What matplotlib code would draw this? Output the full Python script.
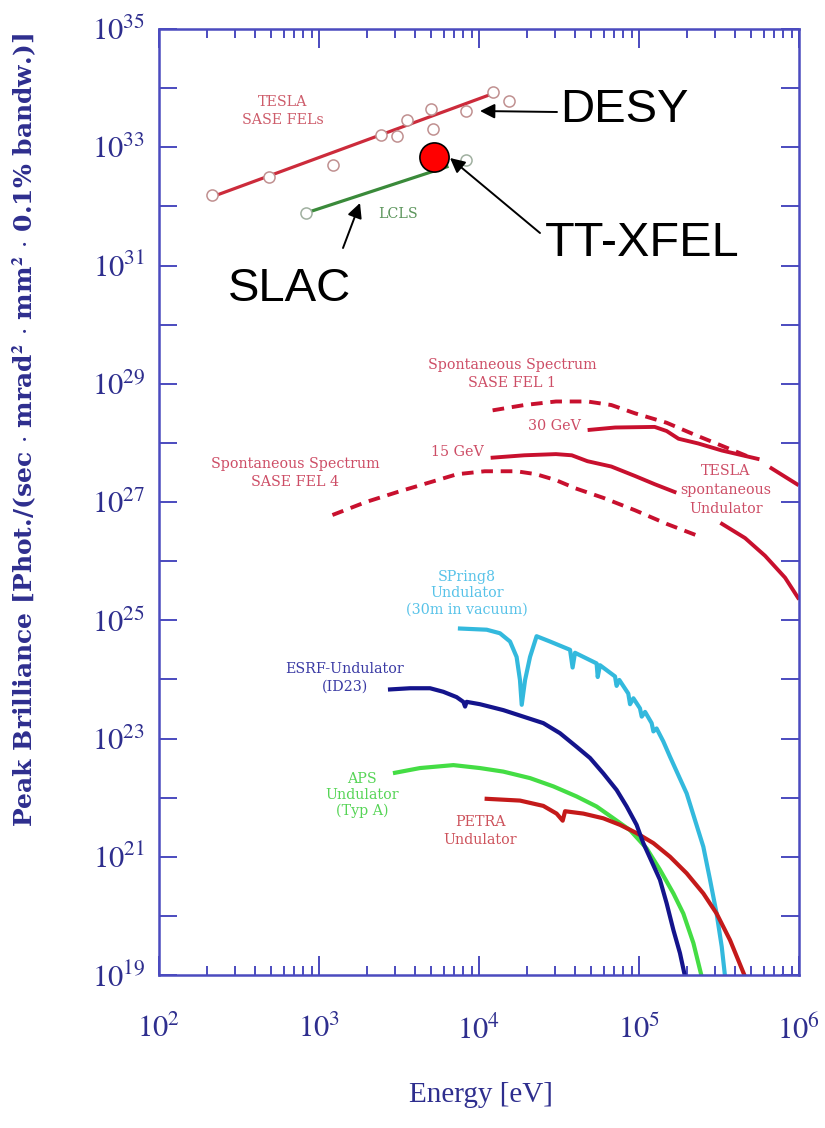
import matplotlib
matplotlib.use("Agg")
import matplotlib.pyplot as plt
from matplotlib.ticker import FixedLocator, FuncFormatter, LogLocator, NullFormatter, NullLocator
import numpy as np

W, H = 825, 1128

# values: log10(E / eV) and log10(brilliance)
tesla_pts_logE = [2.33, 2.69, 3.09, 3.39, 3.49, 3.55, 3.70, 3.71, 3.92, 4.09, 4.19]
tesla_pts_logB = [32.19, 32.50, 32.70, 33.21, 33.19, 33.46, 33.65, 33.31, 33.62, 33.94, 33.79]
tesla_fit_logE = [2.33, 4.09]
tesla_fit_logB = [32.16, 33.91]

lcls_pts_logE = [2.92, 3.92]
lcls_pts_logB = [31.88, 32.78]
lcls_fit_logE = [2.92, 3.80]
lcls_fit_logB = [31.89, 32.67]

ttxfel_logE = [3.72]
ttxfel_logB = [32.84]

sase1_logE = [4.085, 4.283, 4.481, 4.678, 4.827, 4.975, 5.173, 5.346, 5.519, 5.717]
sase1_logB = [28.55, 28.64, 28.70, 28.70, 28.64, 28.50, 28.34, 28.14, 27.95, 27.73]
sase4_logE = [3.084, 3.294, 3.492, 3.690, 3.863, 4.036, 4.234, 4.357, 4.481, 4.604,
              4.777, 4.975, 5.173, 5.395]
sase4_logB = [26.78, 27.00, 27.17, 27.33, 27.47, 27.52, 27.52, 27.47, 27.37, 27.23,
              27.07, 26.86, 26.63, 26.40]

gev30_logE = [4.691, 4.851, 5.098, 5.173, 5.247, 5.370, 5.519, 5.741]
gev30_logB = [28.22, 28.26, 28.27, 28.20, 28.07, 27.99, 27.87, 27.73]
gev30_tail_logE = [5.828, 5.988]
gev30_tail_logB = [27.57, 27.30]
gev15_logE = [4.085, 4.283, 4.481, 4.580, 4.678, 4.827, 4.975, 5.099, 5.222]
gev15_logB = [27.75, 27.79, 27.81, 27.79, 27.69, 27.60, 27.44, 27.30, 27.17]
gev15_tail_logE = [5.519, 5.663, 5.788, 5.913, 5.994]
gev15_tail_logB = [26.63, 26.39, 26.09, 25.72, 25.38]

spring8_logE = [3.881, 4.048, 4.131, 4.194, 4.235, 4.256, 4.267, 4.288, 4.319, 4.360,
                4.444, 4.569, 4.585, 4.600, 4.735, 4.742, 4.756, 4.850, 4.860, 4.877,
                4.933, 4.944, 4.965, 5.006, 5.017, 5.038, 5.079, 5.090, 5.110, 5.152,
                5.194, 5.246, 5.298, 5.350, 5.402, 5.444, 5.485, 5.517, 5.538]
spring8_logB = [24.86, 24.84, 24.78, 24.64, 24.38, 23.99, 23.57, 23.99, 24.38, 24.73,
                24.64, 24.50, 24.20, 24.45, 24.27, 24.04, 24.24, 24.05, 23.89, 23.99,
                23.76, 23.58, 23.68, 23.51, 23.37, 23.45, 23.26, 23.12, 23.17, 22.95,
                22.69, 22.38, 22.07, 21.62, 21.17, 20.61, 20.04, 19.48, 18.97]

esrf_logE = [3.444, 3.569, 3.694, 3.777, 3.860, 3.902, 3.913, 3.923, 4.006, 4.152,
             4.277, 4.402, 4.506, 4.610, 4.694, 4.777, 4.860, 4.923, 4.985, 5.027,
             5.079, 5.131, 5.173, 5.215, 5.256, 5.288]
esrf_logB = [23.83, 23.85, 23.85, 23.79, 23.70, 23.62, 23.54, 23.62, 23.58, 23.48,
             23.37, 23.26, 23.09, 22.86, 22.67, 22.41, 22.13, 21.85, 21.54, 21.23,
             20.92, 20.61, 20.21, 19.76, 19.37, 18.97]

aps_logE = [3.475, 3.631, 3.840, 4.006, 4.152, 4.319, 4.465, 4.610, 4.735, 4.840,
            4.944, 5.048, 5.131, 5.215, 5.277, 5.340, 5.392]
aps_logB = [22.42, 22.50, 22.55, 22.50, 22.44, 22.33, 22.19, 22.02, 21.85, 21.65,
            21.45, 21.14, 20.78, 20.38, 20.04, 19.54, 18.97]

petra_logE = [4.048, 4.256, 4.402, 4.485, 4.523, 4.538, 4.652, 4.777, 4.881, 4.985,
              5.090, 5.194, 5.298, 5.402, 5.485, 5.569, 5.663]
petra_logB = [21.98, 21.95, 21.86, 21.73, 21.61, 21.77, 21.73, 21.65, 21.54, 21.40,
              21.23, 21.00, 20.72, 20.38, 20.04, 19.59, 18.97]

AXCOL = "#2e2e8e"
SPINECOL = "#4b4bbf"


def P(x, y):
    # pixel position in the 825x1128 picture -> figure fraction
    return (x / W, 1 - y / H)


def pw(lx, ly):
    return 10.0 ** np.array(lx), 10.0 ** np.array(ly)


plt.rcParams['mathtext.fontset'] = 'stix'
plt.rcParams['font.family'] = ['Liberation Serif', 'DejaVu Serif']

fig = plt.figure(figsize=(W / 100, H / 100), dpi=100)
ax = fig.add_axes([159 / W, 1 - 975 / H, 640 / W, 946 / H])
ax.set_xscale('log')
ax.set_yscale('log')
ax.set_xlim(1e2, 1e6)
ax.set_ylim(1e19, 1e35)

# TESLA SASE FELs
ax.plot(*pw(tesla_fit_logE, tesla_fit_logB), color="#cc2b3b", lw=2.3, zorder=3)
ax.plot(*pw(tesla_pts_logE, tesla_pts_logB), ls='none', marker='o', ms=8, mfc='white',
        mec="#c09090", mew=1.1, zorder=4)
# LCLS
ax.plot(*pw(lcls_fit_logE, lcls_fit_logB), color="#3a8a3a", lw=2.3, zorder=3)
ax.plot(*pw(lcls_pts_logE, lcls_pts_logB), ls='none', marker='o', ms=8, mfc='white',
        mec="#a0b0a0", mew=1.1, zorder=4)
# TT-XFEL
ax.plot(*pw(ttxfel_logE, ttxfel_logB), ls='none', marker='o', ms=21, mfc="#ff0000",
        mec='black', mew=1.2, zorder=6)

# spontaneous spectra
red = "#c8102e"
ax.plot(*pw(sase1_logE, sase1_logB), color=red, lw=2.8, dashes=(3, 2))
ax.plot(*pw(sase4_logE, sase4_logB), color=red, lw=2.8, dashes=(3, 2))
ax.plot(*pw(gev30_logE, gev30_logB), color=red, lw=2.8)
ax.plot(*pw(gev30_tail_logE, gev30_tail_logB), color=red, lw=2.8)
ax.plot(*pw(gev15_logE, gev15_logB), color=red, lw=2.8)
ax.plot(*pw(gev15_tail_logE, gev15_tail_logB), color=red, lw=2.8)

# storage ring undulators
ax.plot(*pw(spring8_logE, spring8_logB), color="#33b9dd", lw=3)
ax.plot(*pw(aps_logE, aps_logB), color="#44dd44", lw=3)
ax.plot(*pw(petra_logE, petra_logB), color="#c41a1a", lw=3)
ax.plot(*pw(esrf_logE, esrf_logB), color="#14148c", lw=3)

# axes styling
for s in ax.spines.values():
    s.set_color(SPINECOL)
    s.set_linewidth(1.8)
ax.xaxis.set_major_locator(FixedLocator(10.0 ** np.arange(2, 7)))
ax.xaxis.set_minor_locator(LogLocator(base=10, subs=np.arange(2, 10), numticks=20))
ax.xaxis.set_minor_formatter(NullFormatter())
ax.xaxis.set_major_formatter(FuncFormatter(lambda v, p: r"$10^{%d}$" % round(np.log10(v))))
ax.yaxis.set_major_locator(FixedLocator(10.0 ** np.arange(19, 36)))
ax.yaxis.set_minor_locator(NullLocator())
ax.yaxis.set_major_formatter(FuncFormatter(
    lambda v, p: r"$10^{%d}$" % round(np.log10(v)) if round(np.log10(v)) % 2 else ""))
ax.tick_params(which='both', direction='in', top=True, right=True, color=SPINECOL,
               labelcolor=AXCOL, labelsize=22)
ax.tick_params(axis='x', which='major', length=14, width=1.4, pad=29)
ax.tick_params(axis='x', which='minor', length=6.5, width=1.4)
ax.tick_params(axis='y', which='major', length=13, width=1.4, pad=10)

fig.text(*P(481, 1095), "Energy [eV]", color=AXCOL, fontsize=21, ha='center', va='center')
fig.text(*P(25, 430),
         r"Peak Brilliance [Phot./(sec $\cdot$ mrad$^\mathbf{2}$ $\cdot$ mm$^\mathbf{2}$ $\cdot$ 0.1% bandw.)]",
         color=AXCOL, fontsize=18, fontweight='bold', family='DejaVu Serif',
         rotation=90, ha='center', va='center')

# curve labels
def lab(x, y, s, c, size=10.3, ls=1.3):
    fig.text(*P(x, y), s, color=c, fontsize=size, ha='center', va='center', linespacing=ls,
             family='DejaVu Serif', alpha=0.9)

lab(283, 111, "TESLA\nSASE FELs", "#c84a5a")
lab(398, 214, "LCLS", "#4a8a4a")
lab(512, 374, "Spontaneous Spectrum\nSASE FEL 1", "#c83a55")
lab(554, 426, "30 GeV", "#c83a55")
lab(457, 452, "15 GeV", "#c83a55")
lab(295, 473, "Spontaneous Spectrum\nSASE FEL 4", "#c83a55")
lab(726, 490, "TESLA\nspontaneous\nUndulator", "#c83a55", ls=1.45)
lab(467, 593, "SPring8\nUndulator\n(30m in vacuum)", "#45bce6", ls=1.2)
lab(345, 678, "ESRF-Undulator\n(ID23)", "#24249a")
lab(362, 795, "APS\nUndulator\n(Typ A)", "#44d044", ls=1.2)
lab(480, 831, "PETRA\nUndulator", "#c8404a")

# big annotations with arrows
fs_big = 34
fig.text(*P(560, 110), "DESY", fontsize=fs_big, family='Liberation Sans', ha='left', va='center')
fig.text(*P(545, 243), "TT-XFEL", fontsize=fs_big + 1, family='Liberation Sans', ha='left', va='center')
fig.text(*P(290, 289), "SLAC", fontsize=fs_big, family='Liberation Sans', ha='center', va='center')
arrow = dict(arrowstyle='-|>', color='black', lw=1.4, mutation_scale=22, shrinkA=0, shrinkB=0)
ax.annotate("", xy=P(480, 111), xytext=P(557, 112), xycoords='figure fraction',
            textcoords='figure fraction', arrowprops=arrow, zorder=7)
ax.annotate("", xy=P(450, 158), xytext=P(540, 233), xycoords='figure fraction',
            textcoords='figure fraction', arrowprops=arrow, zorder=7)
ax.annotate("", xy=P(360, 203), xytext=P(343, 248), xycoords='figure fraction',
            textcoords='figure fraction', arrowprops=arrow, zorder=7)

fig.savefig("out.png", dpi=100)
